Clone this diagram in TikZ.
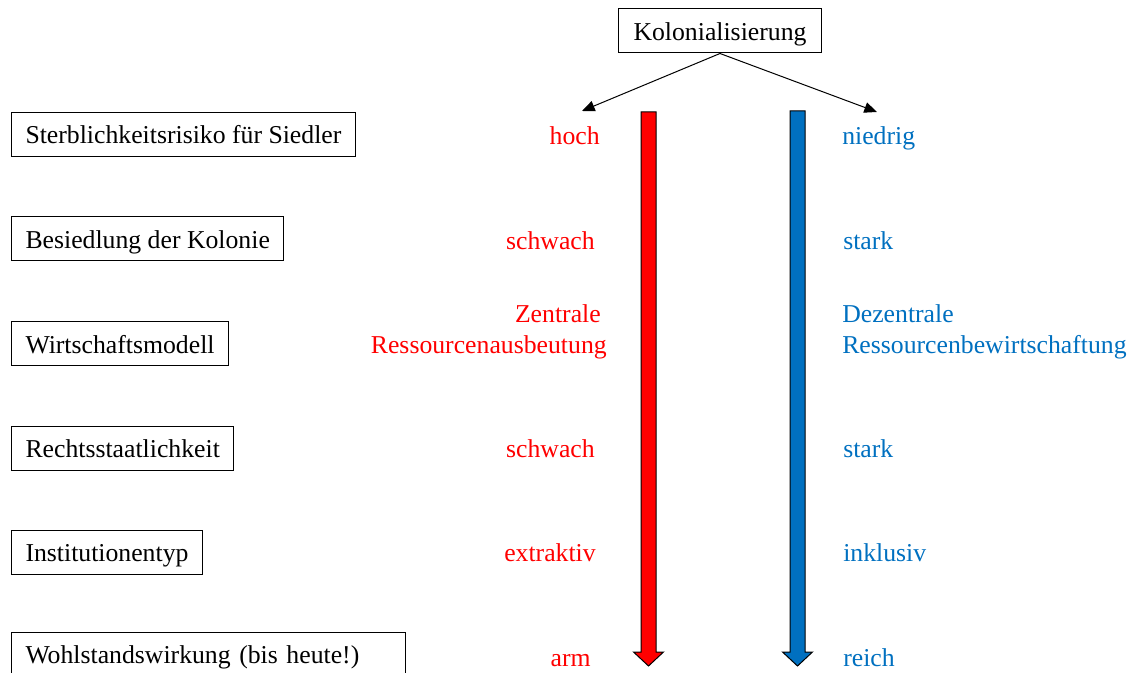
\documentclass[tikz,border=0pt]{standalone}
\usepackage{fontspec}
\setmainfont{Liberation Serif}
\usetikzlibrary{arrows.meta}
\definecolor{kolred}{RGB}{255,0,0}
\definecolor{kolblue}{RGB}{0,112,192}

\begin{document}
\begin{tikzpicture}[x=0.75pt,y=-0.75pt,
    every node/.style={font=\fontsize{19.3}{23.2}\selectfont, text height=18pt, text depth=4pt},
    kasten/.style={draw, line width=0.75pt, anchor=west, inner xsep=10.5pt, inner ysep=0pt, minimum height=33pt},
    rot/.style={text=kolred, anchor=east, inner sep=0pt},
    blau/.style={text=kolblue, anchor=west, inner sep=0pt}]
        \useasboundingbox (0,0) rectangle (1131,673);
        \node[kasten, anchor=center, inner xsep=11pt] (kol) at (720,31) {Kolonialisierung};
        \coordinate (hochziel) at (582,111);
        \coordinate (niedrigziel) at (877,112);
        \draw[line width=0.75pt, -{Triangle[length=9.5pt,width=8pt]}] (kol.south) -- (hochziel);
        \draw[line width=0.75pt, -{Triangle[length=9.5pt,width=8pt]}] (kol.south) -- (niedrigziel);
        % linke Spalte
        \node[kasten] (risiko) at (11,134.5) {Sterblichkeitsrisiko für Siedler};
        \node[kasten] (besiedlung) at (11,239) {Besiedlung der Kolonie};
        \node[kasten] (modell) at (11,344) {Wirtschaftsmodell};
        \node[kasten] (recht) at (11,448) {Rechtsstaatlichkeit};
        \node[kasten] (institution) at (11,552) {Institutionentyp};
        \node[kasten, text width=274.5pt, align=left] (wohlstand) at (11,654) {Wohlstandswirkung (bis heute!)};
        % dicke Pfeile
        \draw[fill=kolred, line width=0.75pt] (641,112) -- (656,112) -- (656,652) -- (663.5,652) -- (648.5,666) -- (633.5,652) -- (641,652) -- cycle;
        \draw[fill=kolblue, line width=0.75pt] (790,111) -- (805,111) -- (805,652) -- (812.5,652) -- (797.5,666) -- (782.5,652) -- (790,652) -- cycle;
        % rot
        \node[rot] (hoch) at (600,135) {hoch};
        \node[rot] (schwachA) at (595,240) {schwach};
        \node[rot, align=right, text height={}, text depth={}] (zentral) at (607,332) {Zentrale\hspace*{4.5pt}\\Ressourcenausbeutung};
        \node[rot] (schwachB) at (595,448) {schwach};
        \node[rot] (extraktiv) at (596,552) {extraktiv};
        \node[rot] (arm) at (591,657) {arm};
        % blau
        \node[blau] (niedrig) at (842,135) {niedrig};
        \node[blau] (starkA) at (843,240) {stark};
        \node[blau, align=left, text height={}, text depth={}] (dezentral) at (842,332) {Dezentrale\\Ressourcenbewirtschaftung};
        \node[blau] (starkB) at (843,448) {stark};
        \node[blau] (inklusiv) at (843,552) {inklusiv};
        \node[blau] (reich) at (843,657) {reich};
\end{tikzpicture}
\end{document}
